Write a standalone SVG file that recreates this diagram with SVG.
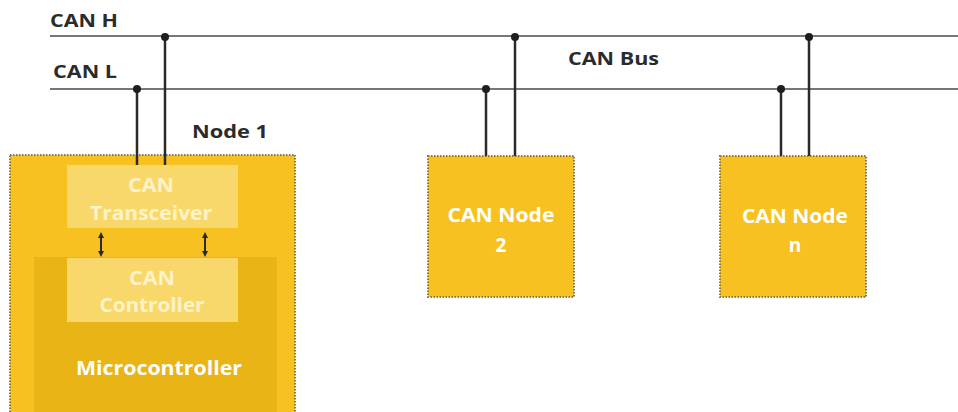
<svg xmlns="http://www.w3.org/2000/svg" width="958" height="412" viewBox="0 0 958 412">
  <defs>
    <style>
      .bus { stroke: #4a4a4a; stroke-width: 1.5; fill: none; }
      .tap { stroke: #2a2a2a; stroke-width: 2.5; fill: none; }
      .dot { fill: #1e1e1e; }
      .node { fill: #f7c221; stroke: #8a7a4a; stroke-width: 2; stroke-dasharray: 1.5 1.5; }
      .mcu { fill: #e8b416; }
      .inner { fill: #f9d86b; }
      .lbl { font-family: "Open Sans", "Liberation Sans", sans-serif; font-weight: bold; font-size: 18px; fill: #2b2b2b; }
      .wt { font-family: "Open Sans", "Liberation Sans", sans-serif; font-weight: bold; font-size: 19px; fill: #ffffff; text-anchor: middle; }
      .wt2 { font-family: "Open Sans", "Liberation Sans", sans-serif; font-weight: bold; font-size: 19px; fill: #fff3c8; text-anchor: middle; }
      .arr { stroke: #2a2a2a; stroke-width: 2; }
    </style>
    <marker id="ah" viewBox="0 0 6 6" refX="3" refY="3" markerWidth="6" markerHeight="6" orient="auto-start-reverse" markerUnits="userSpaceOnUse">
      <path d="M0,0 L6,3 L0,6 Z" fill="#2a2a2a"/>
    </marker>
  </defs>

  <rect width="958" height="412" fill="#ffffff"/>

  <!-- bus labels -->
  <text class="lbl" x="50" y="27" textLength="68" lengthAdjust="spacingAndGlyphs">CAN H</text>
  <text class="lbl" x="53" y="78" textLength="64" lengthAdjust="spacingAndGlyphs">CAN L</text>
  <text class="lbl" x="568" y="65" textLength="91" lengthAdjust="spacingAndGlyphs">CAN Bus</text>
  <text class="lbl" x="192" y="138" textLength="76" lengthAdjust="spacingAndGlyphs">Node 1</text>

  <!-- Node 1 -->
  <g id="node1">
    <rect class="node" x="10" y="155" width="285" height="262"/>
    <rect class="mcu" x="34" y="257" width="243" height="160"/>
    <g id="transceiver">
      <rect class="inner" x="67" y="165" width="171" height="63"/>
      <text class="wt2" x="151" y="192" textLength="46" lengthAdjust="spacingAndGlyphs">CAN</text>
      <text class="wt2" x="151" y="220" textLength="122" lengthAdjust="spacingAndGlyphs">Transceiver</text>
    </g>
    <g id="controller">
      <rect class="inner" x="67" y="258" width="171" height="64"/>
      <text class="wt2" x="152" y="285" textLength="46" lengthAdjust="spacingAndGlyphs">CAN</text>
      <text class="wt2" x="152" y="312" textLength="105" lengthAdjust="spacingAndGlyphs">Controller</text>
    </g>
    <text class="wt" x="159" y="375" textLength="166" lengthAdjust="spacingAndGlyphs">Microcontroller</text>
  </g>

  <!-- Node 2 -->
  <g id="node2">
    <rect class="node" x="428" y="156" width="146" height="141"/>
    <text class="wt" x="501" y="222" textLength="107" lengthAdjust="spacingAndGlyphs">CAN Node</text>
    <text class="wt" x="501" y="252">2</text>
  </g>

  <!-- Node n -->
  <g id="noden">
    <rect class="node" x="720" y="156" width="146" height="141"/>
    <text class="wt" x="795" y="223" textLength="106" lengthAdjust="spacingAndGlyphs">CAN Node</text>
    <text class="wt" x="795" y="252">n</text>
  </g>

  <!-- connectors -->
  <g id="connectors">
    <line class="bus" x1="50" y1="36" x2="958" y2="36"/>
    <line class="bus" x1="50" y1="89" x2="958" y2="89"/>

    <line class="tap" x1="165" y1="36" x2="165" y2="165"/>
    <line class="tap" x1="137" y1="89" x2="137" y2="165"/>
    <circle class="dot" cx="165" cy="37" r="4"/>
    <circle class="dot" cx="137" cy="89" r="4"/>

    <line class="tap" x1="515" y1="36" x2="515" y2="156"/>
    <line class="tap" x1="486" y1="89" x2="486" y2="156"/>
    <circle class="dot" cx="515" cy="37" r="4"/>
    <circle class="dot" cx="486" cy="89" r="4"/>

    <line class="tap" x1="809" y1="36" x2="809" y2="156"/>
    <line class="tap" x1="781" y1="89" x2="781" y2="156"/>
    <circle class="dot" cx="809" cy="37" r="4"/>
    <circle class="dot" cx="781" cy="89" r="4"/>

    <line class="arr" x1="101" y1="235" x2="101" y2="254" marker-start="url(#ah)" marker-end="url(#ah)"/>
    <line class="arr" x1="205" y1="235" x2="205" y2="254" marker-start="url(#ah)" marker-end="url(#ah)"/>
  </g>
</svg>
